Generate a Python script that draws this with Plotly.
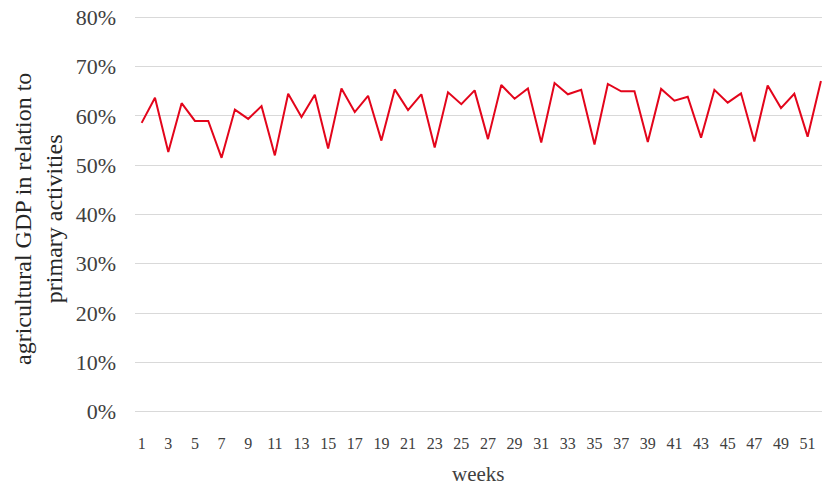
import plotly.graph_objects as go

weeks = list(range(1, 53))
gdp_share = [58.6, 63.7, 52.7, 62.6, 59.0, 59.0, 51.5, 61.3, 59.4, 62.0,
             52.0, 64.5, 59.8, 64.3, 53.4, 65.6, 60.8, 64.1, 55.0, 65.4,
             61.2, 64.4, 53.6, 64.8, 62.4, 65.2, 55.3, 66.3, 63.5, 65.6,
             54.6, 66.7, 64.4, 65.3, 54.2, 66.5, 65.0, 65.0, 54.7, 65.5,
             63.1, 63.9, 55.6, 65.3, 62.7, 64.6, 54.8, 66.2, 61.6, 64.5,
             55.8, 67.1]
y_ticks = [0, 0.1, 0.2, 0.3, 0.4, 0.5, 0.6, 0.7, 0.8]
x_ticks = list(range(1, 53, 2))

font_family = "Liberation Serif, DejaVu Serif, serif"

W, H = 822, 487
L, R, T, B = 135, 0, 15, 73
pw = W - L - R
ph = H - T - B

fig = go.Figure()
fig.add_trace(go.Scatter(
    x=weeks, y=[v / 100 for v in gdp_share], mode="lines",
    line=dict(color="#e3051b", width=2), hoverinfo="skip", showlegend=False))

fig.update_layout(
    width=W, height=H,
    margin=dict(l=L, r=R, t=T, b=B, autoexpand=False),
    paper_bgcolor="white", plot_bgcolor="white",
    font=dict(family=font_family, color="#404040"),
    xaxis=dict(range=[0.5, 52.08], tickmode="array", tickvals=x_ticks,
               ticktext=[str(t) for t in x_ticks], showgrid=False,
               zeroline=False, showline=False, ticks="", automargin=False,
               ticklabelstandoff=18,
               tickfont=dict(size=16, color="#404040")),
    yaxis=dict(range=[-0.005, 0.805], tickmode="array", tickvals=y_ticks,
               tickformat=".0%", showgrid=True, gridcolor="#d9d9d9",
               gridwidth=1, zeroline=False, showline=False, ticks="",
               automargin=False, ticklabelstandoff=18,
               tickfont=dict(size=22, color="#404040")),
    annotations=[
        dict(text="weeks", xref="paper", yref="paper",
             x=(478 - L) / pw, y=-(474 - (T + ph)) / ph,
             xanchor="center", yanchor="middle", showarrow=False,
             font=dict(size=21, color="#404040")),
        dict(text="agricultural GDP in relation to<br>primary activities",
             xref="paper", yref="paper",
             x=(38 - L) / pw, y=1 - (219 - T) / ph, textangle=-90,
             xanchor="center", yanchor="middle", showarrow=False,
             font=dict(size=24, color="#262626")),
    ],
)

fig.write_html("out.html", config={"displayModeBar": False},
               post_script="document.body.style.margin='0';document.body.style.overflow='hidden';")
